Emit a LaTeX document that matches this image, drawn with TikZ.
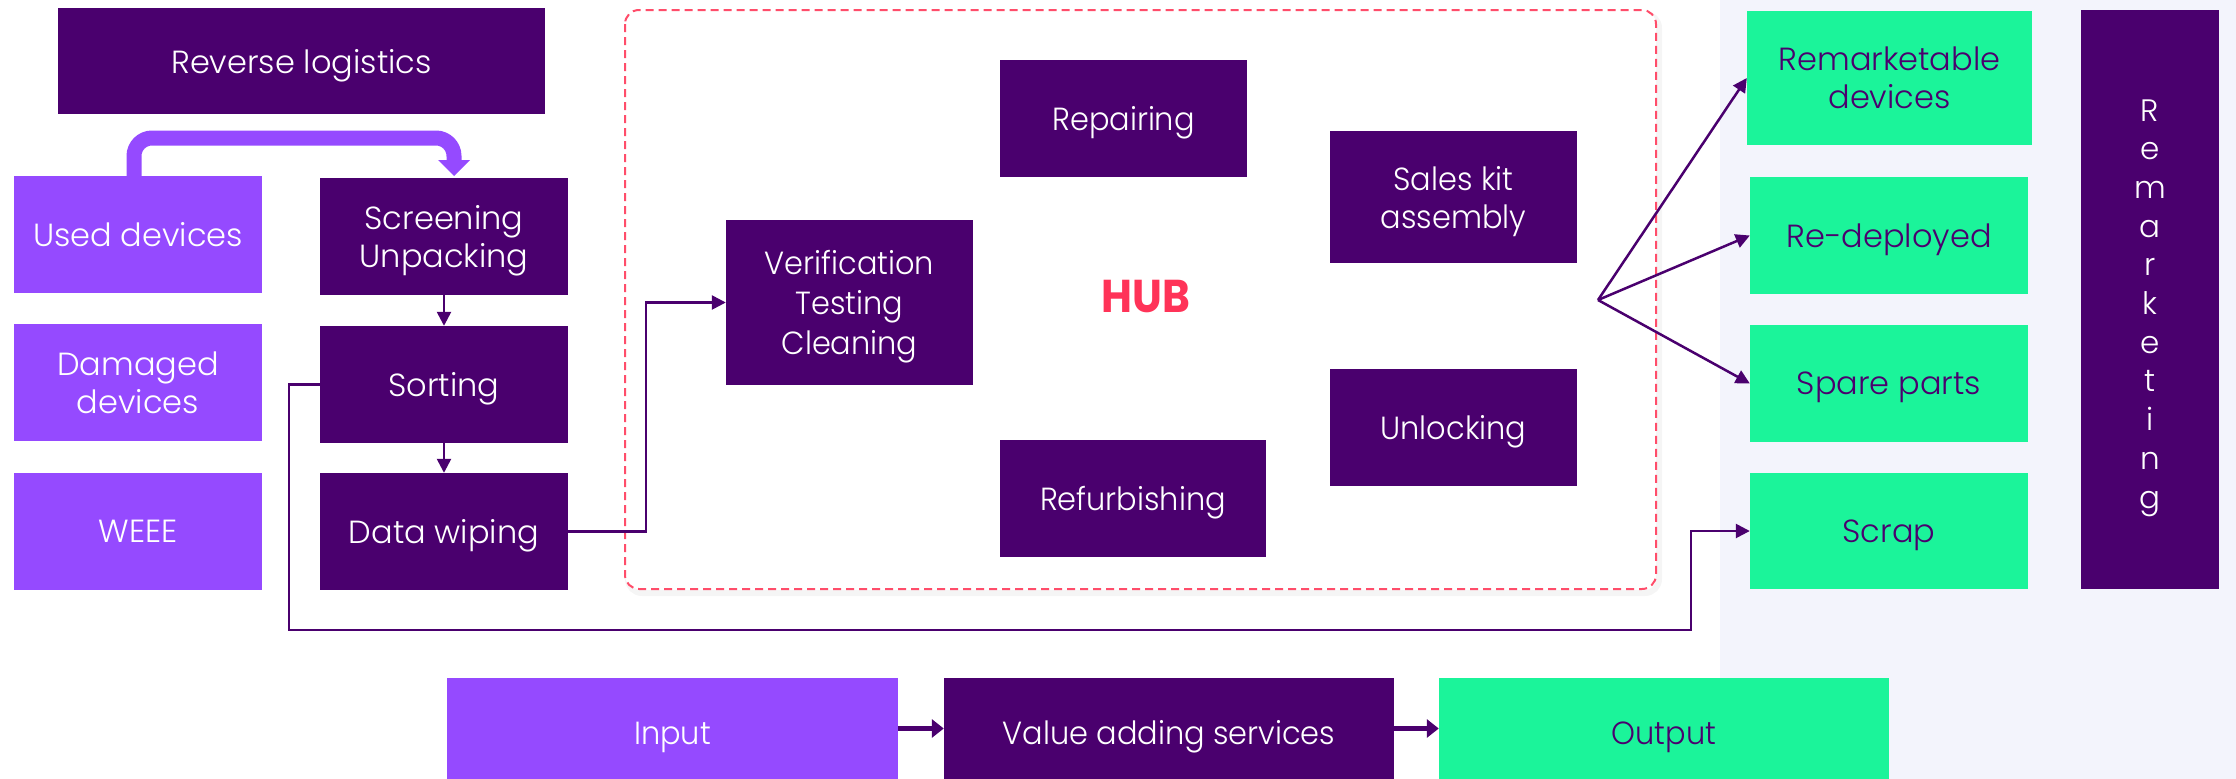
\documentclass[tikz,border=0pt]{standalone}
\usepackage{fontspec}
\usepackage{graphicx}
\setmainfont{Poppins}[UprightFont={* Light}, BoldFont={* Bold}]
\usetikzlibrary{arrows.meta}
\definecolor{dk}{HTML}{4A006E}
\definecolor{lp}{HTML}{954AFF}
\definecolor{gr}{HTML}{1BF49A}
\definecolor{hubred}{HTML}{FF3358}
\definecolor{dashred}{HTML}{FF4D6A}
\definecolor{panel}{HTML}{F3F4FC}
\newcommand\cond[1]{\scalebox{0.95}[1]{#1}}
\tikzset{
  box/.style={rectangle, inner sep=0pt, align=center, text depth=0pt, font=\fontsize{32}{38}\selectfont},
  darkbox/.style={box, fill=dk, text=white},
  lightbox/.style={box, fill=lp, text=white},
  greenbox/.style={box, fill=gr, text=dk},
  conn/.style={draw=dk, line width=2.5pt, -{Triangle[length=14pt,width=14pt]}},
  thickconn/.style={draw=dk, line width=5pt, -{Triangle[length=12pt,width=18pt]}},
}
\begin{document}
\begin{tikzpicture}[x=1pt,y=-1pt]
\useasboundingbox (0,0) rectangle (2236,779);
\fill[panel] (1720,0) rectangle (2236,779);
% hub frame
\draw[black!4, line width=6pt, rounded corners=14pt] (628,14) rectangle (1659,593);
\draw[dashred, line width=2pt, dash pattern=on 8pt off 5pt, rounded corners=14pt, fill=white] (625,10) rectangle (1656,589);
% left column
\node[darkbox, minimum width=487, minimum height=106] (rl) at (301.5,61) {Reverse logistics};
\node[lightbox, minimum width=248, minimum height=117] (used) at (138,234.5) {Used devices};
\node[lightbox, minimum width=248, minimum height=117] (dam) at (138,382.5) {Damaged\\devices};
\node[lightbox, minimum width=248, minimum height=117] (weee) at (138,531.5) {WEEE};
\node[darkbox, minimum width=248, minimum height=117] (scr) at (444,236.5) {Screening\\Unpacking};
\node[darkbox, minimum width=248, minimum height=117] (sort) at (444,384.5) {Sorting};
\node[darkbox, minimum width=248, minimum height=117] (dw) at (444,531.5) {Data wiping};
% hub
\node[darkbox, minimum width=247, minimum height=165] (ver) at (849.5,302.5) {\cond{Verification}\\[2pt]\cond{Testing}\\[2pt]\cond{Cleaning}};
\node[darkbox, minimum width=247, minimum height=117] (rep) at (1123.5,118.5) {\cond{Repairing}};
\node[darkbox, minimum width=266, minimum height=117] (ref) at (1133,498.5) {\cond{Refurbishing}};
\node[darkbox, minimum width=247, minimum height=132] (sales) at (1453.5,197) {\cond{Sales kit}\\\cond{assembly}};
\node[darkbox, minimum width=247, minimum height=117] (unl) at (1453.5,427.5) {\cond{Unlocking}};
\node[inner sep=0pt, text=hubred, font=\fontsize{46}{46}\selectfont\bfseries] (hub) at (1146,297) {\scalebox{0.92}[1]{HUB}};
% outputs
\node[greenbox, minimum width=285, minimum height=134] (remk) at (1889.5,78) {Remarketable\\devices};
\node[greenbox, minimum width=278, minimum height=117] (redep) at (1889,235.5) {Re-deployed};
\node[greenbox, minimum width=278, minimum height=117] (spare) at (1889,383.5) {Spare parts};
\node[greenbox, minimum width=278, minimum height=116] (scrap) at (1889,531) {Scrap};
\node[darkbox, minimum width=138, minimum height=579, text height=417pt, font=\fontsize{31}{38.7}\selectfont] (rmkt) at (2150,299.5) {R\\e\\m\\a\\r\\k\\e\\t\\i\\n\\g};
% legend row
\node[lightbox, minimum width=451, minimum height=101, text height=31pt] (inp) at (672.5,728.5) {\cond{Input}};
\node[darkbox, minimum width=450, minimum height=101, text height=31pt] (vas) at (1169,728.5) {\cond{Value adding services}};
\node[greenbox, minimum width=450, minimum height=101, text height=31pt] (out) at (1664,728.5) {\cond{Output}};
% connectors
\draw[lp, line width=15pt, rounded corners=18pt] (134,176) -- (134,138) -- (454,138) -- (454,160);
\fill[lp] (438,160) -- (470,160) -- (454,176) -- cycle;
\draw[conn] (scr.south) -- (sort.north);
\draw[conn] (sort.south) -- (dw.north);
\coordinate (c3) at (646,531.5);
\draw[conn] (dw.east) -- (c3) |- (ver.west);
\coordinate (c1) at (289,630);
\coordinate (c2) at (1691,630);
\draw[conn] (sort.west) -| (c1) -- (c2) |- (scrap.west);
\coordinate (fan) at (1598,300);
\draw[conn] (fan) -- (remk.west);
\draw[conn] (fan) -- (redep.west);
\draw[conn] (fan) -- (spare.west);
\draw[thickconn] (inp.east) -- (vas.west);
\draw[thickconn] (vas.east) -- (out.west);
\end{tikzpicture}
\end{document}
